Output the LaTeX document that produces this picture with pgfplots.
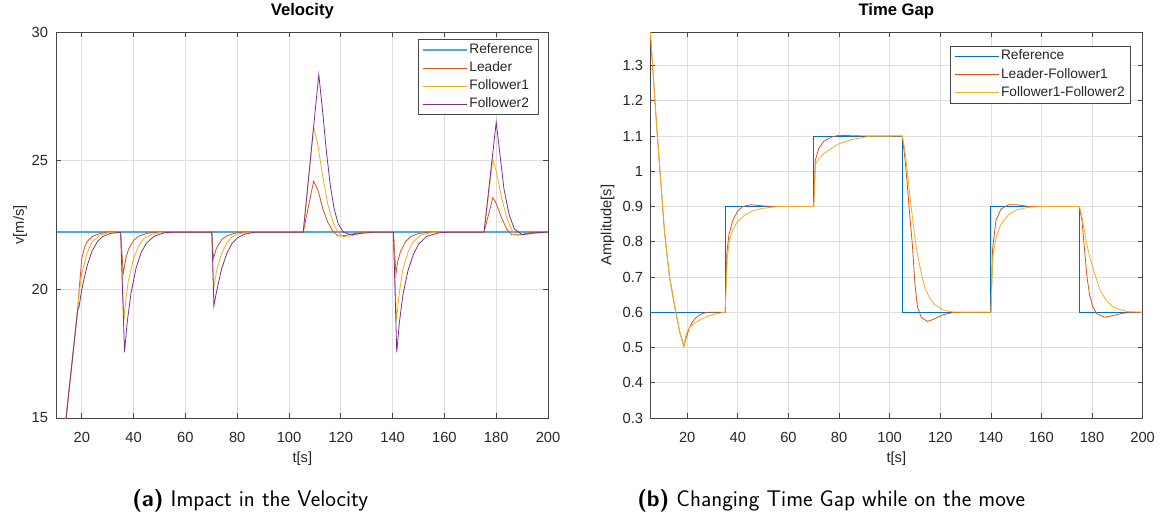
\documentclass[border=0pt]{standalone}
\usepackage{pgfplots}
\pgfplotsset{compat=1.18}
\usepackage{fontspec}
\setmainfont{Liberation Sans}
\definecolor{mblue}{RGB}{0,114,189}
\definecolor{mlblue}{RGB}{77,170,222}
\definecolor{morange}{RGB}{217,83,25}
\definecolor{myellow}{RGB}{237,177,32}
\definecolor{mpurple}{RGB}{126,47,142}
\definecolor{maxis}{RGB}{70,70,70}
\definecolor{mgrid}{RGB}{222,222,222}
\definecolor{mtext}{RGB}{38,38,38}
\pgfplotsset{mstyle/.style={
  scale only axis,
  axis line style={maxis, line width=0.6pt},
  every tick/.style={maxis, line width=0.5pt},
  major tick length=3.5pt,
  tick align=inside,
  grid=major,
  major grid style={mgrid, line width=0.5pt},
  tick label style={font=\fontsize{11}{13}\selectfont, text=mtext},
  label style={font=\fontsize{11}{13}\selectfont, text=mtext},
  title style={font=\bfseries\fontsize{12.5}{14}\selectfont, at={(0.5,1)}, anchor=base, yshift=6pt},
  /pgf/number format/assume math mode=true,
  xticklabel style={anchor=base, yshift=-18pt},
  xlabel style={at={(axis description cs:0.5,0)}, anchor=base, yshift=-33pt},
  legend cell align=left,
  legend style={draw=maxis, line width=0.5pt, font=\fontsize{10.3}{11}\selectfont, text=mtext,
    nodes={inner sep=1.2pt, text height=7.4pt, text depth=2pt}, row sep=1.8pt, inner xsep=3pt, inner ysep=2pt},
  legend image code/.code={\draw[#1] (0pt,0pt) -- (33pt,0pt);},
  no markers,
  xtick={20,40,...,200},
}}
\begin{document}
\begin{tikzpicture}
\useasboundingbox (0,0) rectangle (873pt,386.25pt);
% ---------------- Velocity ----------------
\begin{axis}[mstyle,
  at={(42.5pt,72.75pt)}, anchor=south west,
  width=368.5pt, height=289.5pt,
  xmin=10.3, xmax=200, ymin=15, ymax=30,
  ytick={15,20,25,30},
  yticklabel style={anchor=east, inner sep=0pt, xshift=-6.3pt},
  ylabel style={at={(axis description cs:-0.0746,0.5)}, anchor=center},
  title={Velocity}, xlabel={t[s]}, ylabel={v[m/s]},
  legend style={at={(rel axis cs:0.981,0.982)}, anchor=north east},
]
\addplot[mlblue, line width=1.3pt] coordinates {(10.3,22.22) (200,22.22)};
\addlegendentry{Reference}
\addplot[morange, line width=0.6pt] coordinates {
(10,11.3)(18.4,19.2)(19,20.0)(20,21.2)(21,21.6)(22,21.85)(24,22.05)(27,22.17)(30,22.22)(35,22.22)
(36,20.6)(37,21.2)(38,21.55)(40,21.9)(42,22.07)(45,22.17)(48,22.22)(70.2,22.22)
(70.8,21.2)(72,21.6)(74,21.93)(76,22.08)(79,22.18)(82,22.22)(105.5,22.22)
(109.5,24.2)(110.5,24.0)(111.5,23.75)(113,23.15)(115,22.6)(117,22.25)(119,22.07)(122,22.1)(126,22.18)(130,22.22)
(140.3,22.22)(141.3,20.6)(142,21.1)(143,21.45)(145,21.85)(147,22.05)(150,22.17)(154,22.22)
(175.3,22.22)(178.7,23.56)(179.7,23.4)(182,22.8)(184,22.35)(186,22.12)(189,22.12)(193,22.2)(200,22.22)};
\addlegendentry{Leader}
\addplot[myellow, line width=0.6pt] coordinates {
(10,11.3)(18.4,19.2)(19,19.9)(20,20.6)(22,21.4)(24,21.85)(27,22.1)(30,22.2)(33,22.22)(35,22.22)
(36.3,18.8)(37,19.6)(38,20.35)(40,21.2)(42,21.7)(44,21.98)(47,22.14)(51,22.22)(70.2,22.22)
(70.9,20.0)(72,20.7)(74,21.4)(76,21.8)(78,22.04)(81,22.17)(85,22.22)(105.5,22.22)
(109.5,26.3)(111,25.7)(113,24.4)(115,23.3)(117,22.6)(119,22.2)(121,22.05)(124,22.08)(128,22.18)(132,22.22)
(140.3,22.22)(141.5,18.8)(142.5,19.8)(144,20.8)(146,21.45)(148,21.85)(151,22.12)(156,22.22)
(175.3,22.22)(178.7,25.05)(180,24.6)(182,23.6)(184,22.8)(186,22.3)(188,22.1)(192,22.15)(200,22.22)};
\addlegendentry{Follower1}
\addplot[mpurple, line width=0.6pt] coordinates {
(10,11.3)(18.4,19.2)(19,19.35)(20,20.0)(22,20.9)(24,21.5)(26,21.85)(28,22.05)(31,22.17)(35,22.22)
(36.5,17.55)(37.5,18.7)(39,19.85)(41,20.85)(43,21.45)(45,21.8)(48,22.07)(52,22.2)(55,22.22)(70.2,22.22)
(71,19.35)(72,19.9)(74,20.8)(76,21.4)(78,21.78)(80,22.0)(83,22.15)(87,22.22)(105.5,22.22)
(111.5,28.35)(113,26.9)(114.5,25.3)(116,24.0)(117.5,23.1)(119,22.55)(121,22.22)(124,22.12)(128,22.18)(133,22.22)
(140.3,22.22)(141.6,17.55)(142.6,18.7)(144,19.8)(146,20.75)(148,21.35)(150,21.75)(153,22.05)(158,22.2)(162,22.22)
(175.3,22.22)(180,26.5)(181.5,25.2)(183,23.9)(185,22.9)(187,22.35)(190,22.12)(195,22.2)(200,22.22)};
\addlegendentry{Follower2}
\end{axis}
% ---------------- Time Gap ----------------
\begin{axis}[mstyle,
  at={(487.5pt,72.75pt)}, anchor=south west,
  width=369.5pt, height=289.5pt,
  xmin=5.3, xmax=200, ymin=0.3, ymax=1.395,
  ytick={0.3,0.4,...,1.31},
  yticklabels={0.3,0.4,0.5,0.6,0.7,0.8,0.9,1,1.1,1.2,1.3},
  yticklabel style={anchor=east, inner sep=0pt, xshift=-5pt},
  ylabel style={at={(axis description cs:-0.0863,0.5)}, anchor=center},
  title={Time Gap}, xlabel={t[s]}, ylabel={Amplitude[s]},
  legend style={at={(rel axis cs:0.9755,0.965)}, anchor=north east},
]
\addplot[mblue, line width=0.6pt] coordinates {
(5,0.6)(35,0.6)(35,0.9)(70,0.9)(70,1.1)(105,1.1)(105,0.6)(140,0.6)(140,0.9)(175,0.9)(175,0.6)(200,0.6)};
\addlegendentry{Reference}
\addplot[morange, line width=0.6pt] coordinates {
(5,1.44)(8,1.12)(11,0.83)(13,0.70)(15.5,0.60)(17,0.545)(18.7,0.503)(19.5,0.525)(20.8,0.555)(22,0.572)(23.5,0.585)(25.5,0.595)(28,0.6)(35,0.6)
(35.7,0.77)(36.5,0.82)(38,0.86)(40,0.888)(42,0.9)(45,0.905)(48,0.903)(53,0.9)(70,0.9)
(70.6,1.03)(72,1.065)(74,1.085)(77,1.097)(80,1.102)(84,1.101)(90,1.1)(105,1.1)
(106,1.04)(107,0.96)(108,0.87)(109,0.79)(110,0.68)(111,0.615)(112.5,0.585)(115,0.574)(118,0.582)(121,0.593)(125,0.599)(130,0.6)(140,0.6)
(140.7,0.78)(142,0.86)(144,0.893)(147,0.905)(150,0.905)(155,0.9)(175,0.9)
(176,0.86)(177,0.78)(178,0.7)(179,0.65)(180.3,0.615)(182,0.595)(185,0.586)(188,0.59)(192,0.597)(196,0.6)(200,0.6)};
\addlegendentry{Leader-Follower1}
\addplot[myellow, line width=0.6pt] coordinates {
(5,1.44)(8,1.12)(11,0.83)(13,0.70)(15.5,0.60)(17,0.545)(18.7,0.503)(19.5,0.535)(20.5,0.552)(22,0.565)(25,0.578)(28,0.588)(31,0.595)(35,0.6)
(35.8,0.75)(36.6,0.8)(38,0.835)(40,0.858)(43,0.877)(46,0.888)(50,0.895)(56,0.9)(70,0.9)
(70.7,1.02)(72,1.035)(74,1.05)(77,1.065)(80,1.078)(85,1.09)(92,1.099)(105,1.1)
(106,1.06)(107,1.0)(108,0.93)(109,0.87)(110,0.81)(111,0.765)(112.5,0.71)(114,0.668)(116,0.638)(118,0.621)(121,0.607)(125,0.601)(130,0.6)(140,0.6)
(140.8,0.76)(142,0.81)(144,0.85)(147,0.877)(150,0.89)(155,0.898)(160,0.9)(175,0.9)
(176,0.87)(177,0.83)(178,0.79)(179,0.76)(181,0.71)(183,0.665)(185.5,0.635)(188,0.617)(191,0.607)(194,0.602)(200,0.6)};
\addlegendentry{Follower1-Follower2}
\end{axis}
% ---------------- captions ----------------
\node[font=\sffamily\fontsize{17}{19}\selectfont, anchor=base west, inner sep=0pt] at (99pt,6.4pt) {\textbf{(a)} Impact in the Velocity};
\node[font=\sffamily\fontsize{17}{19}\selectfont, anchor=base west, inner sep=0pt] at (477.75pt,6.4pt) {\textbf{(b)} Changing Time Gap while on the move};
\end{tikzpicture}
\end{document}
